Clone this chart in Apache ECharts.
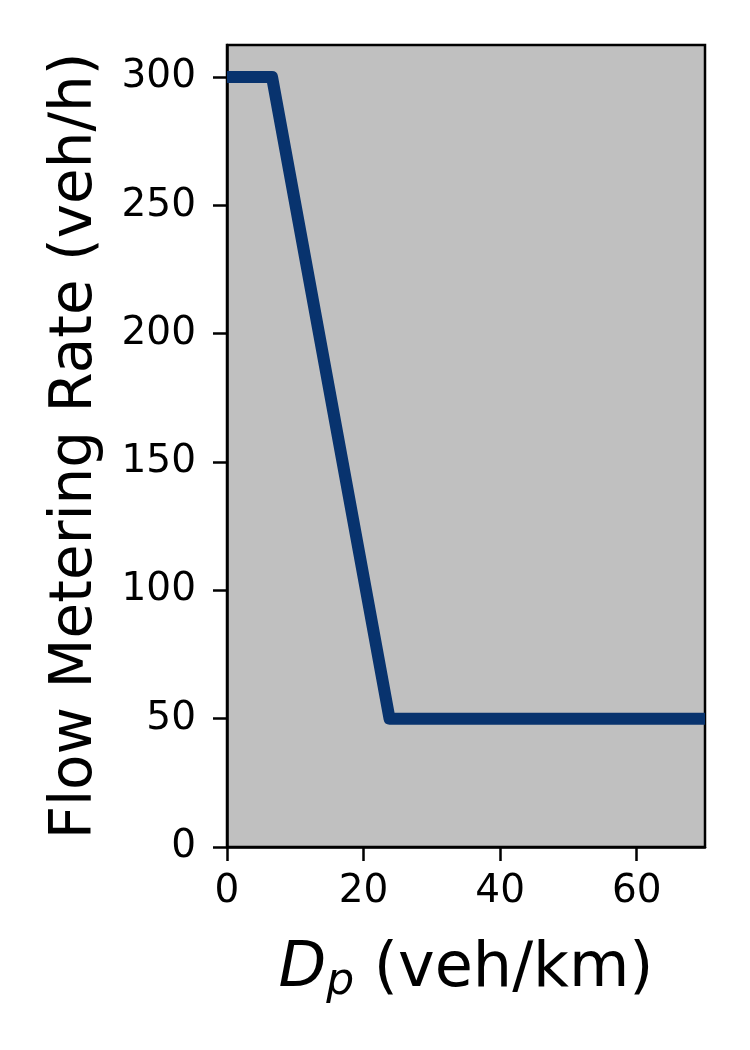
<!DOCTYPE html>
<html>
<head>
<meta charset="utf-8">
<script src="https://cdn.jsdelivr.net/npm/echarts@6/dist/echarts.min.js"></script>
<style>
html,body{margin:0;padding:0;background:#fff;}
#chart{width:750px;height:1050px;}
</style>
</head>
<body>
<div id="chart"></div>
<script>
// Data
var densityX = [0, 6.6, 23.8, 70];          // D_p (veh/km)
var meteringRate = [300, 300, 50, 50];      // Flow Metering Rate (veh/h)
var xTicks = [0, 20, 40, 60];
var yTicks = [0, 50, 100, 150, 200, 250, 300];

var points = densityX.map(function (x, i) { return [x, meteringRate[i]]; });

var chart = echarts.init(document.getElementById('chart'), null, {renderer: 'canvas'});
var fontFamily = 'DejaVu Sans';
chart.setOption({
  animation: false,
  backgroundColor: '#ffffff',
  grid: {
    left: 227, right: 45, top: 45, bottom: 203,
    show: true,
    backgroundColor: '#c0c0c0',
    borderColor: '#000000',
    borderWidth: 2.5
  },
  xAxis: {
    type: 'value',
    min: 0, max: 70,
    splitLine: {show: false},
    axisLine: {show: true, onZero: false, lineStyle: {color: '#000', width: 2.5}},
    axisTick: {show: true, length: 14, lineStyle: {color: '#000', width: 2.5}, customValues: xTicks},
    axisLabel: {
      color: '#000', fontFamily: fontFamily, fontSize: 39, margin: 25,
      customValues: xTicks
    },
    name: '{i|D}{sub|p} (veh/km)',
    nameLocation: 'middle',
    nameGap: 88,
    nameTextStyle: {
      color: '#000', fontFamily: fontFamily, fontSize: 62,
      rich: {
        i: {fontFamily: fontFamily, fontSize: 62, fontStyle: 'italic', color: '#000'},
        sub: {fontFamily: fontFamily, fontSize: 44, fontStyle: 'italic', color: '#000', padding: [26, 0, 0, 0]}
      }
    }
  },
  yAxis: {
    type: 'value',
    min: 0, max: 312.5,
    splitLine: {show: false},
    axisLine: {show: true, onZero: false, lineStyle: {color: '#000', width: 2.5}},
    axisTick: {show: true, length: 14, lineStyle: {color: '#000', width: 2.5}, customValues: yTicks},
    axisLabel: {
      color: '#000', fontFamily: fontFamily, fontSize: 39, margin: 31,
      customValues: yTicks
    },
    name: 'Flow Metering Rate (veh/h)',
    nameLocation: 'middle',
    nameGap: 122,
    nameRotate: 90,
    nameTextStyle: {color: '#000', fontFamily: fontFamily, fontSize: 58}
  },
  series: [{
    type: 'line',
    data: points,
    showSymbol: false,
    symbol: 'none',
    clip: true,
    lineStyle: {color: '#08336e', width: 12, join: 'round', cap: 'butt'}
  }]
});
</script>
</body>
</html>
